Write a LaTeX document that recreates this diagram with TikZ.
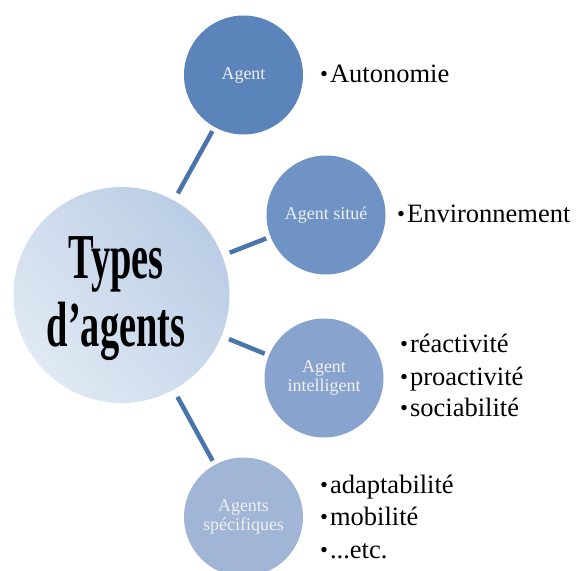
\documentclass[tikz,border=0pt]{standalone}
\usepackage{fontspec}
\setmainfont{Liberation Serif}
\usetikzlibrary{shapes.geometric}
\definecolor{cA}{HTML}{5A84BA}
\definecolor{cB}{HTML}{6F93C4}
\definecolor{cC}{HTML}{88A4CE}
\definecolor{cD}{HTML}{A1B5D7}
\definecolor{lineC}{HTML}{4A74AC}
\definecolor{bigDark}{HTML}{BACDE5}
\definecolor{bigLight}{HTML}{E0E9F4}
\tikzset{
  small/.style={circle, minimum size=119pt, inner sep=0pt, text=white!94!black, font=\fontsize{18}{19}\selectfont, align=center},
  link/.style={draw=lineC, line width=4.5pt, shorten <=8pt, shorten >=4.5pt},
  item/.style={anchor=base west, inner sep=0pt, font=\fontsize{26.5}{30}\selectfont},
}
\newcommand{\bul}{\raisebox{0.5pt}{\scalebox{0.85}{•}}\kern2pt}
\begin{document}
\begin{tikzpicture}[x=1pt,y=-1pt]
\useasboundingbox (0,0) rectangle (577,570);
\node[circle, minimum size=216pt, inner sep=0pt, top color=bigDark, bottom color=bigLight, shading angle=-50, draw=none] (big) at (121.5,295) {};
\node[inner sep=0pt, font=\bfseries\fontsize{64}{68}\selectfont, align=center] (bigtext) at (116,299) {\scalebox{0.6}[1]{Types}\\\scalebox{0.6}[1]{d’agents}};
\node[small, fill=cA] (a1) at (243.5,75) {Agent};
\node[small, fill=cB] (a2) at (326,215) {Agent situé};
\node[small, fill=cC] (a3) at (324,378) {Agent\\intelligent};
\node[small, fill=cD] (a4) at (243.5,517) {Agents\\spécifiques};
\draw[link] (big) -- (a1);
\draw[link] (big) -- (a2);
\draw[link] (big) -- (a3);
\draw[link] (big) -- (a4);
\node[item] (t1) at (320,82) {\bul Autonomie};
\node[item] (t2) at (397,222) {\bul Environnement};
\node[item] (t3) at (400,352) {\bul réactivité};
\node[item] (t4) at (400,385) {\bul proactivité};
\node[item] (t5) at (400,416) {\bul sociabilité};
\node[item] (t6) at (320,493) {\bul adaptabilité};
\node[item] (t7) at (320,525) {\bul mobilité};
\node[item] (t8) at (320,558) {\bul ...etc.};
\end{tikzpicture}
\end{document}
